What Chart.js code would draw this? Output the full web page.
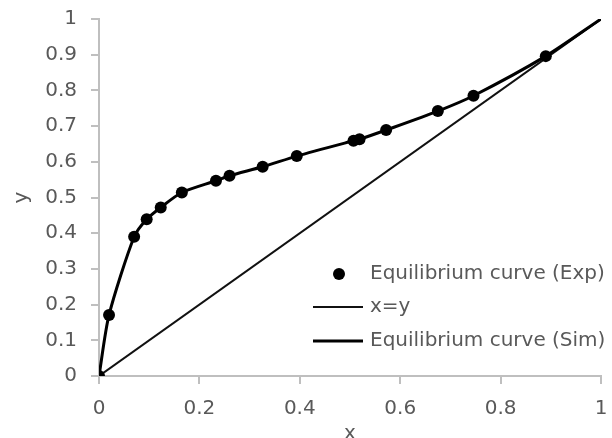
<!DOCTYPE html>
<html>
<head>
<meta charset="utf-8">
<script src="https://cdn.jsdelivr.net/npm/chart.js@4/dist/chart.umd.min.js"></script>
<style>
html,body{margin:0;padding:0;background:#fff;}
#wrap{width:612px;height:438px;position:relative;}
</style>
</head>
<body>
<div id="wrap"><canvas id="c" width="612" height="438"></canvas></div>
<script>
// Experimental equilibrium points
const expX = [0, 0.02, 0.07, 0.095, 0.123, 0.165, 0.233, 0.26, 0.326, 0.394, 0.507, 0.519, 0.572, 0.675, 0.746, 0.89];
const expY = [0, 0.171, 0.39, 0.439, 0.472, 0.514, 0.547, 0.561, 0.586, 0.616, 0.659, 0.663, 0.689, 0.742, 0.785, 0.896];
// Simulated equilibrium curve
const simX = [0, 0.02, 0.07, 0.095, 0.123, 0.165, 0.233, 0.26, 0.326, 0.394, 0.507, 0.519, 0.572, 0.675, 0.746, 0.89, 1];
const simY = [0, 0.171, 0.39, 0.439, 0.472, 0.514, 0.547, 0.561, 0.586, 0.616, 0.659, 0.663, 0.689, 0.742, 0.785, 0.896, 1];
// Diagonal x=y
const diagX = [0, 1];
const diagY = [0, 1];
const xTicks = [0, 0.2, 0.4, 0.6, 0.8, 1];
const yTicks = [0, 0.1, 0.2, 0.3, 0.4, 0.5, 0.6, 0.7, 0.8, 0.9, 1];
const labels = ['Equilibrium curve (Exp)', 'x=y', 'Equilibrium curve (Sim)'];

const pts = (xs, ys) => xs.map((x, i) => ({x: x, y: ys[i]}));
const FONT = '"DejaVu Sans", sans-serif';
const GRAY = '#595959';
const AXIS = '#bfbfbf';

const insideLegend = {
  id: 'insideLegend',
  afterDraw(chart) {
    const ctx = chart.ctx;
    const a = chart.chartArea;
    const lineL = a.left + 214, lineR = a.left + 264, tx = a.left + 271;
    const rows = [a.top + 255, a.top + 288, a.top + 322];
    ctx.save();
    ctx.font = '20px ' + FONT;
    ctx.textBaseline = 'middle';
    ctx.textAlign = 'left';
    chart.data.datasets.forEach((ds, i) => {
      const y = rows[i];
      if (ds.showLine === false) {
        ctx.beginPath();
        ctx.fillStyle = ds.backgroundColor;
        ctx.arc(a.left + 240, y, ds.pointRadius, 0, Math.PI * 2);
        ctx.fill();
      } else {
        ctx.beginPath();
        ctx.strokeStyle = ds.borderColor;
        ctx.lineWidth = ds.borderWidth;
        ctx.moveTo(lineL, y);
        ctx.lineTo(lineR, y);
        ctx.stroke();
      }
      ctx.fillStyle = GRAY;
      ctx.fillText(ds.label, tx, y);
    });
    ctx.restore();
  }
};

new Chart(document.getElementById('c'), {
  type: 'scatter',
  data: {
    datasets: [
      {label: labels[0], data: pts(expX, expY), showLine: false, pointRadius: 6, pointHoverRadius: 6,
       backgroundColor: '#000', borderColor: '#000', borderWidth: 0, order: 0},
      {label: labels[1], data: pts(diagX, diagY), showLine: true, pointRadius: 0, borderColor: '#111',
       borderWidth: 2, order: 2},
      {label: labels[2], data: pts(simX, simY), showLine: true, pointRadius: 0, borderColor: '#000',
       borderWidth: 3, tension: 0.25, order: 1}
    ]
  },
  options: {
    responsive: false,
    animation: false,
    devicePixelRatio: 1,
    layout: {padding: {top: 19, right: 11, left: 0, bottom: 0}},
    plugins: {legend: {display: false}, tooltip: {enabled: false}},
    scales: {
      x: {
        type: 'linear', min: 0, max: 1,
        afterBuildTicks: (s) => { s.ticks = xTicks.map(v => ({value: v})); },
        afterFit: (s) => { s.height = 62; s.paddingLeft = 0; s.paddingRight = 0; },
        ticks: {color: GRAY, font: {family: FONT, size: 20}, padding: 13, maxRotation: 0,
                callback: (v) => String(Math.round(v * 10) / 10)},
        grid: {drawOnChartArea: false, drawTicks: true, tickLength: 8, color: AXIS, lineWidth: 2},
        border: {color: AXIS, width: 2},
        title: {display: true, text: 'x', color: GRAY, font: {family: FONT, size: 20}, padding: {top: 0, bottom: -8}}
      },
      y: {
        type: 'linear', min: 0, max: 1,
        afterBuildTicks: (s) => { s.ticks = yTicks.map(v => ({value: v})); },
        afterFit: (s) => { s.width = 99; s.paddingTop = 0; s.paddingBottom = 0; },
        ticks: {color: GRAY, font: {family: FONT, size: 20}, padding: 14,
                callback: (v) => String(Math.round(v * 10) / 10)},
        grid: {drawOnChartArea: false, drawTicks: true, tickLength: 8, color: AXIS, lineWidth: 2},
        border: {color: AXIS, width: 2},
        title: {display: true, text: 'y', color: GRAY, font: {family: FONT, size: 20}, padding: {top: 10, bottom: 0}}
      }
    }
  },
  plugins: [insideLegend]
});
</script>
</body>
</html>
